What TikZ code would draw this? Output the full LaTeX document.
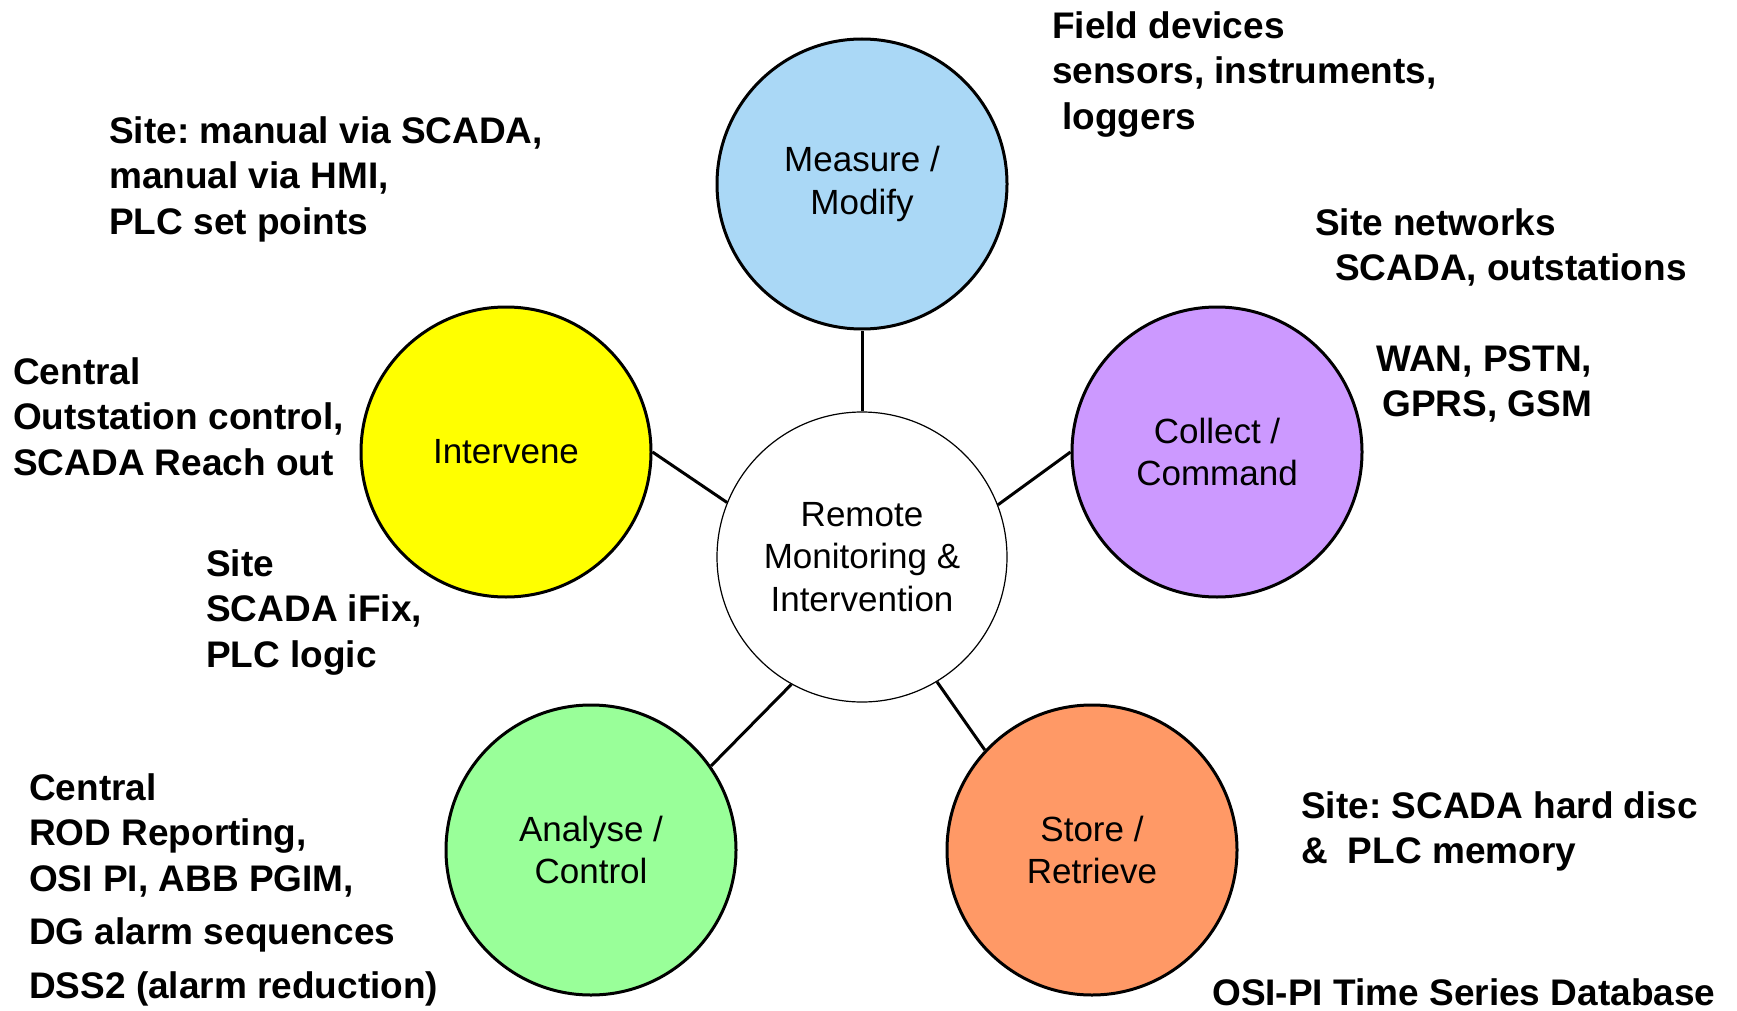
\documentclass[tikz,border=0pt]{standalone}
\usepackage{fontspec}
\setmainfont{Liberation Sans}
\frenchspacing

\begin{document}
\begin{tikzpicture}[x=1pt,y=1pt,yscale=-1,xscale=1,
  blob/.style={draw, circle, line width=3pt, minimum size=290pt, inner sep=0pt, align=center, font=\fontsize{35}{42.3}\selectfont},
  note/.style={anchor=north west, inner sep=0pt, align=left, font=\fontsize{37}{45.5}\selectfont\bfseries},
  link/.style={line width=3pt}]
\useasboundingbox (0,0) rectangle (1737,1011);
% circles
\node [blob, line width=1.2pt, fill=white] (centre) at (862,557) {Remote\\Monitoring \&\\Intervention};
\node [blob, fill={rgb, 255:red, 170; green, 216; blue, 246 }] (measure) at (862,184) {Measure /\\Modify};
\node [blob, fill={rgb, 255:red, 255; green, 255; blue, 0 }] (intervene) at (506,452) {Intervene};
\node [blob, fill={rgb, 255:red, 204; green, 153; blue, 255 }] (collect) at (1217,452) {Collect /\\Command};
\node [blob, fill={rgb, 255:red, 153; green, 255; blue, 153 }] (analyse) at (591,850) {Analyse /\\Control};
\node [blob, fill={rgb, 255:red, 255; green, 153; blue, 102 }] (store) at (1092,850) {Store /\\Retrieve};
% spokes
\draw [link] (measure.south) -- (centre.north);
\draw [link] (intervene.east) -- (centre.158);
\draw [link] (collect.west) -- (centre.21);
\draw [link] (analyse.35) -- (centre.241);
\draw [link] (store.137) -- (centre.301);
% notes
\node [note] (fieldnote) at (1052,11) {Field devices\\sensors, instruments,\\\ loggers};
\node [note] (manualnote) at (109,116) {Site: manual via SCADA,\\manual via HMI,\\PLC set points};
\node [note] (netnote) at (1315,208) {Site networks\\\hspace*{20pt}SCADA, outstations};
\node [note] (wannote) at (1376,345) {WAN, PSTN,\\\hspace*{6pt}GPRS, GSM};
\node [note] (reachnote) at (13,357) {Central\\Outstation control,\\SCADA Reach out};
\node [note] (ifixnote) at (206,549) {Site\\SCADA iFix,\\PLC logic};
\node [note] (rodnote) at (29,773) {Central\\ROD Reporting,\\OSI PI, ABB PGIM,\\[8pt]DG alarm sequences\\[8pt]DSS2 (alarm reduction)};
\node [note] (discnote) at (1301,791) {Site: SCADA hard disc\\\&\hspace*{20pt}PLC memory};
\node [note] (osinote) at (1212,978) {OSI-PI Time Series Database};
\end{tikzpicture}
\end{document}
